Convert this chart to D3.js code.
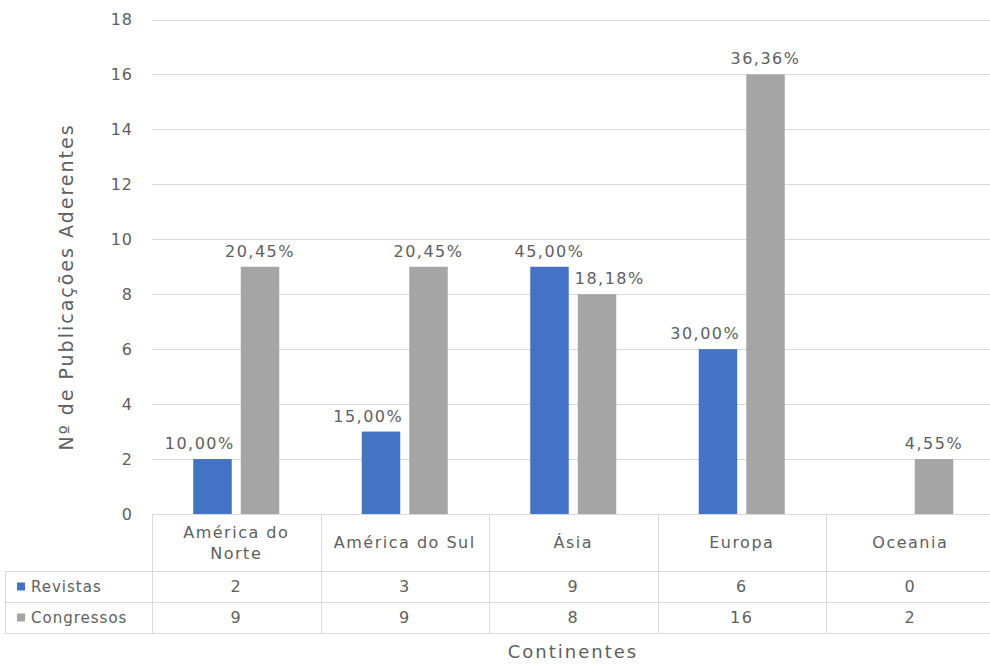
<!DOCTYPE html>
<html>
<head>
<meta charset="utf-8">
<script src="https://cdn.jsdelivr.net/npm/d3@7"></script>
<style>
  body { margin: 0; background: #fff; }
  text { font-family: "DejaVu Sans", sans-serif; fill: #606060; letter-spacing: 1.5px; }
</style>
</head>
<body>
<svg width="990" height="664"></svg>
<script>
// data
var continentes = ["América do Norte", "América do Sul", "Ásia", "Europa", "Oceania"];
var series = ["Revistas", "Congressos"];
var revistas = [2, 3, 9, 6, 0];
var congressos = [9, 9, 8, 16, 2];
var pctRevistas = ["10,00%", "15,00%", "45,00%", "30,00%", ""];
var pctCongressos = ["20,45%", "20,45%", "18,18%", "36,36%", "4,55%"];
var yTicks = [0, 2, 4, 6, 8, 10, 12, 14, 16, 18];

var colors = {"Revistas": "#4472C4", "Congressos": "#A5A5A5"};
var gridColor = "#d9d9d9";

var svg = d3.select("svg");
var plotLeft = 152, plotRight = 994.5, plotTop = 19.5, plotBottom = 514;
var rowH = [57, 31, 31];

var x0 = d3.scaleBand().domain(continentes).range([plotLeft, plotRight]).padding(0);
var x1 = d3.scaleBand().domain(series).range([-43, 43]).paddingInner(0.19);
var y = d3.scaleLinear().domain([0, 18]).range([plotBottom, plotTop]);

var values = {"Revistas": revistas, "Congressos": congressos};
var labels = {"Revistas": pctRevistas, "Congressos": pctCongressos};

// grid lines
svg.append("g")
    .selectAll("line")
    .data(yTicks)
    .enter()
    .append("line")
    .attr("x1", plotLeft).attr("x2", 990)
    .attr("y1", function(d) { return Math.round(y(d)) + 0.5; })
    .attr("y2", function(d) { return Math.round(y(d)) + 0.5; })
    .attr("stroke", gridColor);

// y axis labels
var yAxis = d3.axisLeft(y).tickValues(yTicks).tickSize(0).tickPadding(19);
var ya = svg.append("g").attr("transform", "translate(" + plotLeft + ",0)").call(yAxis);
ya.select(".domain").remove();
ya.selectAll("text")
    .attr("fill", "#606060")
    .style("font-size", "16px")
    .style("font-family", "DejaVu Sans")
    .style("letter-spacing", "1px");

// bars
var bars = [];
series.forEach(function(s) {
    continentes.forEach(function(c, i) {
        bars.push({serie: s, cont: c, value: values[s][i], label: labels[s][i]});
    });
});

function barX(d) { return x0(d.cont) + x0.bandwidth() / 2 + x1(d.serie); }

svg.append("g")
    .selectAll("rect")
    .data(bars)
    .enter()
    .append("rect")
    .attr("x", barX)
    .attr("width", x1.bandwidth())
    .attr("y", function(d) { return y(d.value); })
    .attr("height", function(d) { return y(0) - y(d.value); })
    .attr("fill", function(d) { return colors[d.serie]; });

var lbl = svg.append("g")
    .selectAll("text")
    .data(bars.filter(function(d) { return d.label; }))
    .enter()
    .append("text")
    .attr("x", function(d) { return barX(d) + x1.bandwidth() / 2; })
    .attr("y", function(d) { return y(d.value) - 10; })
    .attr("text-anchor", "middle")
    .style("font-size", "16px")
    .style("letter-spacing", "1.5px")
    .text(function(d) { return d.label; });

// move a label sideways when it would sit over the neighbouring taller bar
lbl.each(function(d) {
    var w = this.getComputedTextLength();
    var cx = barX(d) + x1.bandwidth() / 2;
    var base = y(d.value) - 10;
    bars.forEach(function(o) {
        if (o.cont !== d.cont || o.serie === d.serie) return;
        if (y(o.value) > base) return;
        var ox = barX(o);
        if (ox > barX(d)) {
            var over = cx + w / 2 - ox;
            if (over > 0) cx -= over + 6;
        } else {
            var over2 = ox + x1.bandwidth() - (cx - w / 2);
            if (over2 > 0) cx += over2 + 6;
        }
    });
    d3.select(this).attr("x", cx);
});

// data table
var tb = svg.append("g");
var rowY = [plotBottom, plotBottom + rowH[0], plotBottom + rowH[0] + rowH[1], plotBottom + rowH[0] + rowH[1] + rowH[2]];

[1, 2, 3].forEach(function(k) {
    tb.append("line")
        .attr("x1", 5).attr("x2", 990)
        .attr("y1", rowY[k] + 0.5).attr("y2", rowY[k] + 0.5)
        .attr("stroke", gridColor);
});
tb.append("line").attr("x1", 5.5).attr("x2", 5.5).attr("y1", rowY[1]).attr("y2", rowY[3]).attr("stroke", gridColor);

// vertical lines at category boundaries
tb.selectAll(".vl")
    .data(continentes)
    .enter()
    .append("line")
    .attr("x1", function(d) { return Math.round(x0(d)) + 0.5; })
    .attr("x2", function(d) { return Math.round(x0(d)) + 0.5; })
    .attr("y1", plotBottom).attr("y2", rowY[3])
    .attr("stroke", gridColor);

// category headers
var headerLines = {"América do Norte": ["América do", "Norte"]};
continentes.forEach(function(c) {
    var lines = headerLines[c] || [c];
    var cx = x0(c) + x0.bandwidth() / 2;
    var mid = plotBottom + rowH[0] / 2;
    lines.forEach(function(t, k) {
        tb.append("text")
            .attr("x", cx)
            .attr("y", mid + (k - (lines.length - 1) / 2) * 21)
            .attr("dy", "0.35em")
            .attr("text-anchor", "middle")
            .style("font-size", "16px")
            .text(t);
    });
});

// value rows
series.forEach(function(s, r) {
    var cy = rowY[r + 1] + rowH[r + 1] / 2;
    tb.append("rect").attr("x", 17).attr("y", cy - 4).attr("width", 8).attr("height", 8).attr("fill", colors[s]);
    tb.append("text").attr("x", 31).attr("y", cy).attr("dy", "0.35em").style("font-size", "15px").style("letter-spacing", "1px").text(s);
    continentes.forEach(function(c, i) {
        tb.append("text")
            .attr("x", x0(c) + x0.bandwidth() / 2)
            .attr("y", cy)
            .attr("dy", "0.35em")
            .attr("text-anchor", "middle")
            .style("font-size", "16px")
            .text(values[s][i]);
    });
});

// axis titles
svg.append("text")
    .attr("transform", "translate(66,287) rotate(-90)")
    .attr("dy", "0.35em")
    .attr("text-anchor", "middle")
    .style("font-size", "19px")
    .style("letter-spacing", "2px")
    .text("Nº de Publicações Aderentes");

svg.append("text")
    .attr("x", 573)
    .attr("y", 652)
    .attr("dy", "0.35em")
    .attr("text-anchor", "middle")
    .style("font-size", "18px")
    .style("letter-spacing", "2px")
    .text("Continentes");
</script>
</body>
</html>
